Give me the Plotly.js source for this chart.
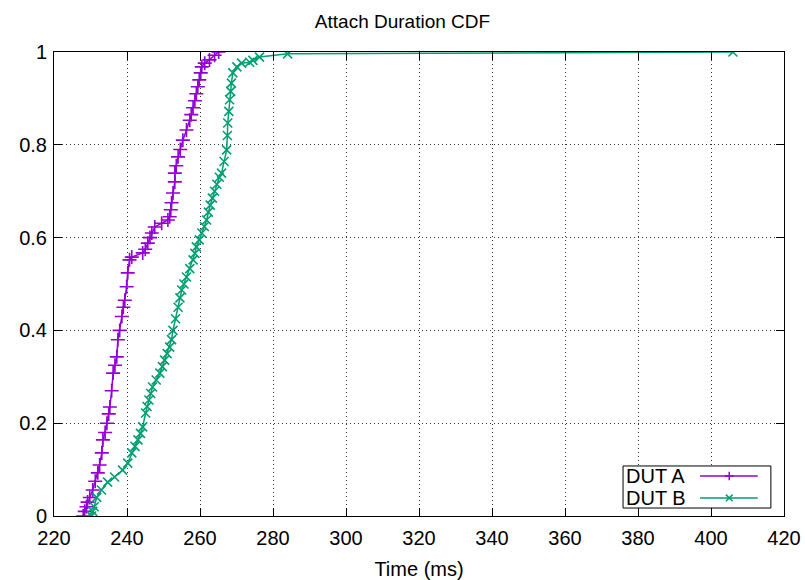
<!DOCTYPE html>
<html>
<head>
<meta charset="utf-8">
<script src="https://cdn.plot.ly/plotly-3.0.1.min.js"></script>
<style>html,body{margin:0;padding:0;background:#fff;}#chart{width:805px;height:580px;}</style>
</head>
<body>
<div id="chart"></div>
<script>
// DUT A: attach duration (ms) and cumulative fraction
const dutA_x = [228.0,228.4,228.9,229.2,229.8,230.6,231.3,232.0,232.5,233.1,233.4,234.0,234.5,235.0,235.3,235.8,236.2,236.7,237.2,237.5,238.0,238.6,239.0,239.4,239.9,240.2,240.7,241.3,244.3,245.0,245.7,246.3,246.8,247.6,249.5,251.2,251.7,252.0,252.2,252.6,253.1,253.1,253.5,254.0,254.6,255.3,256.3,257.2,257.6,258.1,258.6,259.0,259.4,259.8,260.2,260.5,261.3,262.6,264.0,265.1];
const dutA_y = [0.000,0.010,0.020,0.030,0.040,0.056,0.075,0.093,0.110,0.136,0.164,0.180,0.200,0.220,0.235,0.270,0.308,0.325,0.343,0.380,0.400,0.430,0.450,0.465,0.494,0.524,0.552,0.558,0.567,0.575,0.588,0.600,0.610,0.623,0.631,0.638,0.645,0.660,0.675,0.696,0.720,0.739,0.755,0.774,0.790,0.810,0.832,0.853,0.865,0.880,0.895,0.910,0.925,0.940,0.955,0.968,0.976,0.983,0.993,1.000];

// DUT B: attach duration (ms) and cumulative fraction
const dutB_x = [230.3,230.6,231.0,231.7,233.0,234.7,236.6,238.8,240.2,241.3,242.2,243.0,243.7,244.3,245.1,245.5,246.0,246.5,247.0,248.0,249.0,249.7,250.3,251.0,251.7,252.2,252.6,253.3,254.0,254.5,255.0,255.6,256.3,257.2,258.1,258.6,259.0,259.8,260.5,261.2,261.8,262.3,262.8,263.4,264.0,264.6,265.3,265.9,266.6,267.3,267.5,267.6,267.9,268.1,268.4,268.6,269.0,270.1,271.4,273.6,274.5,276.3,284.0,406.0];
const dutB_y = [0.000,0.010,0.020,0.040,0.056,0.073,0.084,0.099,0.114,0.136,0.150,0.164,0.178,0.192,0.222,0.236,0.250,0.264,0.278,0.293,0.308,0.322,0.336,0.350,0.364,0.380,0.400,0.425,0.450,0.470,0.487,0.500,0.515,0.533,0.552,0.566,0.580,0.595,0.610,0.624,0.638,0.655,0.670,0.685,0.700,0.715,0.730,0.739,0.764,0.789,0.820,0.847,0.872,0.897,0.915,0.933,0.955,0.968,0.976,0.978,0.982,0.989,0.996,1.000];

const seriesNames = ["DUT A", "DUT B"];
const xTicks = [220,240,260,280,300,320,340,360,380,400,420];
const yTicks = [0,0.2,0.4,0.6,0.8,1];
const yTickText = ["0","0.2","0.4","0.6","0.8","1"];

const colA = "#9400d3", colB = "#009e73";
const FONT = "Liberation Sans, Arial, Helvetica, sans-serif";

const traces = [
  {x: dutA_x, y: dutA_y, name: seriesNames[0], type: "scatter", mode: "lines+markers",
   line: {color: colA, width: 1.5},
   marker: {symbol: "cross-thin-open", size: 10, color: colA, line: {color: colA, width: 1.6}}},
  {x: dutB_x, y: dutB_y, name: seriesNames[1], type: "scatter", mode: "lines+markers",
   line: {color: colB, width: 1.5},
   marker: {symbol: "x-thin-open", size: 9, color: colB, line: {color: colB, width: 1.6}}}
];

// legend geometry (paper coords)
const lx0 = 0.7795, lx1 = 0.982, ly0 = 0.0172, ly1 = 0.1078;
const rowA = 0.0862, rowB = 0.0388;
const sx0 = 0.885, sx1 = 0.964, mx = 0.925, hx = 0.0058, hy = 0.009;

const shapes = [
  {type: "rect", xref: "paper", yref: "paper", x0: lx0, x1: lx1, y0: ly0, y1: ly1,
   line: {color: "#000", width: 1}, fillcolor: "#fff", layer: "above"},
  {type: "line", xref: "paper", yref: "paper", x0: sx0, x1: sx1, y0: rowA, y1: rowA,
   line: {color: colA, width: 1.5}},
  {type: "line", xref: "paper", yref: "paper", x0: sx0, x1: sx1, y0: rowB, y1: rowB,
   line: {color: colB, width: 1.5}},
  {type: "path", xref: "paper", yref: "paper",
   path: `M ${mx-hx} ${rowA} L ${mx+hx} ${rowA} M ${mx} ${rowA-hy} L ${mx} ${rowA+hy}`,
   line: {color: colA, width: 1.5}},
  {type: "path", xref: "paper", yref: "paper",
   path: `M ${mx-hx*0.8} ${rowB-hy*0.8} L ${mx+hx*0.8} ${rowB+hy*0.8} M ${mx-hx*0.8} ${rowB+hy*0.8} L ${mx+hx*0.8} ${rowB-hy*0.8}`,
   line: {color: colB, width: 1.5}}
];

const annotations = [
  {text: seriesNames[0], xref: "paper", yref: "paper", x: 0.781, y: rowA, xanchor: "left", yanchor: "middle",
   showarrow: false, font: {family: FONT, size: 20, color: "#000"}},
  {text: seriesNames[1], xref: "paper", yref: "paper", x: 0.781, y: rowB, xanchor: "left", yanchor: "middle",
   showarrow: false, font: {family: FONT, size: 20, color: "#000"}}
];

const axisCommon = {
  showline: true, mirror: "ticks", linecolor: "#000", linewidth: 1,
  ticks: "inside", ticklen: 8, tickcolor: "#000", tickwidth: 1,
  showgrid: true, gridcolor: "#333", griddash: "1px,3px", gridwidth: 1,
  zeroline: false, tickfont: {family: FONT, size: 20, color: "#000"}
};

const layout = {
  width: 805, height: 580,
  margin: {l: 54, r: 21, t: 52, b: 64},
  paper_bgcolor: "#fff", plot_bgcolor: "#fff",
  showlegend: false,
  title: {text: "Attach Duration CDF", font: {family: FONT, size: 19, color: "#000"},
          x: 0.5, xanchor: "center", y: 0.964, yanchor: "middle"},
  xaxis: Object.assign({}, axisCommon, {
    range: [220, 420], tickvals: xTicks, ticktext: xTicks.map(String),
    ticklabelstandoff: 4,
    title: {text: "Time (ms)", font: {family: FONT, size: 20, color: "#000"}, standoff: 14}
  }),
  yaxis: Object.assign({}, axisCommon, {
    range: [0, 1], tickvals: yTicks, ticktext: yTickText, ticklabelstandoff: 2
  }),
  shapes: shapes,
  annotations: annotations
};

Plotly.newPlot("chart", traces, layout, {displayModeBar: false, staticPlot: true});
</script>
</body>
</html>
